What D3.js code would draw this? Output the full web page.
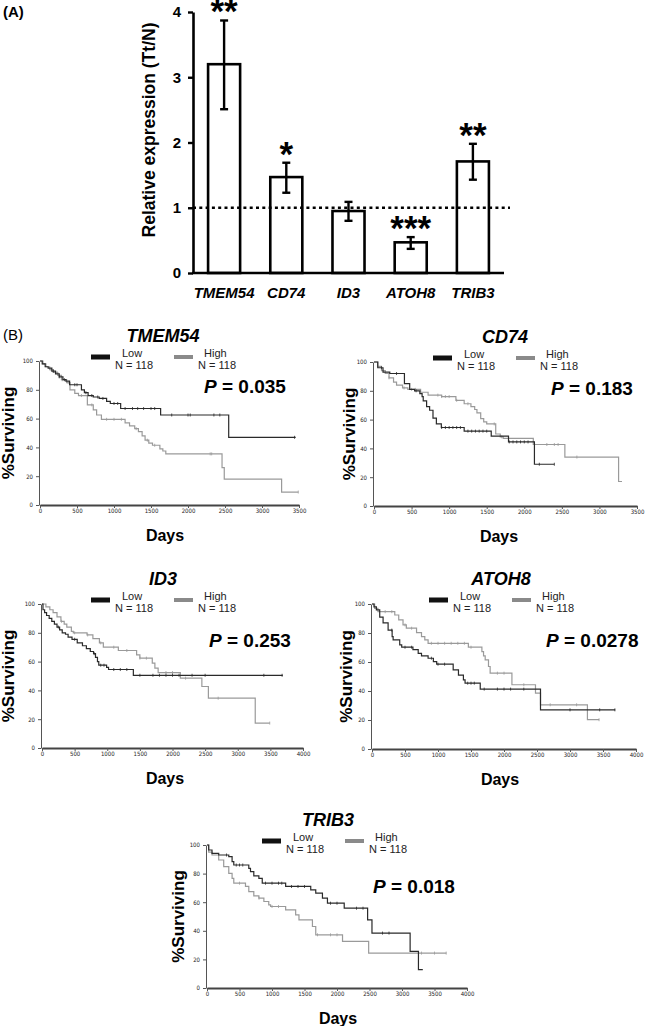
<!DOCTYPE html>
<meta charset="utf-8">
<script src="https://d3js.org/d3.v7.min.js"></script>
<style>
  body { margin: 0; background: #fff; }
  text { font-family: "Liberation Sans", Arial, sans-serif; }
</style>
<div id="fig"></div>
<script>

// ---- panel A data
var genes = ["TMEM54", "CD74", "ID3", "ATOH8", "TRIB3"];
var expr = [3.2, 1.47, 0.95, 0.47, 1.71];
var errHi = [3.87, 1.69, 1.09, 0.55, 1.98];
var errLo = [2.51, 1.23, 0.80, 0.37, 1.43];
var stars = ["**", "*", "", "***", "**"];
var yTicksA = [0, 1, 2, 3, 4];

// ---- panel B data : [day, % surviving] steps
var tmem54Low = [[0,100],[30,98],[70,96],[110,95],[160,93],[210,91],[260,89],[310,87],[350,86],[400,83.5],[560,80],[600,78],[650,76],[720,75],[800,74],[900,72],[950,70.5],[1090,67],[1630,62.5],[2550,47],[3455,47]];
var tmem54High = [[0,100],[40,98],[80,96],[130,94],[180,92],[240,90],[290,87],[360,85],[405,80],[470,77.5],[520,76],[640,69.5],[720,66],[765,62.5],[830,59.5],[1150,57],[1210,55],[1280,53],[1330,51],[1380,48],[1420,45],[1470,43],[1520,41.5],[1620,39],[1660,37.5],[1700,35.5],[2460,26],[2490,18],[3265,9],[3490,9]];
var tmem54LowCens = [180,260,330,470,500,620,700,780,850,1000,1050,1150,1250,1320,1400,1500,1550,1780,2000,2030,2350,2430,3440];
var tmem54HighCens = [150,230,300,380,560,700,900,1000,1100,1300,1450,1550,2300,2320,3490];

var cd74Low = [[0,100],[50,96],[120,93],[210,92],[405,85],[475,81],[540,80],[610,78],[640,76],[655,73],[700,69],[740,66.5],[785,61],[830,57],[896,54.5],[1200,52],[1560,48.5],[1790,44.5],[2135,29],[2400,29]];
var cd74High = [[0,100],[50,97],[100,94],[150,92],[200,89],[260,86],[300,84],[380,82],[450,81],[620,79],[720,77],[900,76],[1090,73.4],[1200,71],[1290,69],[1340,67],[1370,64.7],[1420,60.7],[1460,58.4],[1500,57],[1620,50],[1680,48],[1720,47],[2120,42.7],[2540,34],[3255,17],[3300,17]];
var cd74LowCens = [100,300,560,900,950,1000,1050,1100,1150,1250,1300,1350,1400,1450,1500,1800,1850,1900,1950,2000,2050,2200,2400];
var cd74HighCens = [200,400,500,550,850,900,950,1000,1100,1250,1600,1700,2300,2400,2450,2700];

var id3Low = [[0,100],[15,96],[40,94],[70,92],[110,90],[150,88],[190,86],[230,84],[270,82],[310,80],[360,79],[400,77],[460,75.5],[540,73],[620,71],[680,69],[740,67],[790,65.5],[820,63],[850,60],[870,57.5],[990,56],[1020,54.5],[1400,50.5],[3690,50.5]];
var id3High = [[0,100],[60,98],[120,96],[170,94],[230,91],[290,88],[340,86],[380,84],[450,81],[480,80],[690,78.5],[780,76],[880,73],[940,70],[1170,67.7],[1450,64.7],[1500,62.4],[1690,59],[1730,55.5],[1780,52.4],[2120,48.5],[2450,42.7],[2550,34.6],[3268,17.3],[3490,17.3]];
var id3LowCens = [250,500,800,900,950,1100,1200,1300,1500,1700,1800,1900,2000,2100,2300,2500,3400,3680];
var id3HighCens = [300,500,700,900,1100,1300,1500,1600,1900,2000,2200,2700,3490];

var atoh8Low = [[0,100],[30,98],[66,96],[117,91],[168,87],[244,82],[305,77.5],[320,75.2],[420,71.8],[450,70.2],[620,68.5],[700,66],[750,64.2],[850,62.6],[930,60.3],[980,58.5],[1230,54.6],[1310,51],[1385,47.7],[1410,45.4],[1640,41.3],[2553,27],[3685,27]];
var atoh8High = [[0,100],[40,97],[90,94.7],[345,92.4],[405,89],[470,85.6],[520,83.3],[675,80.3],[750,77.5],[800,75.2],[850,72.9],[1460,70.2],[1665,67.2],[1690,64.2],[1715,61.5],[1765,56.9],[1790,52.3],[2120,44.3],[2477,38.5],[2553,30.5],[3264,20.2],[3442,20.2]];
var atoh8LowCens = [300,500,600,900,1000,1100,1450,1500,1550,1700,1900,2000,2100,2300,3000,3450,3680];
var atoh8HighCens = [200,300,500,600,900,1000,1100,1200,1300,1400,1500,1900,2000,2300,2700,3100,3440];

var trib3Low = [[0,100],[26,96.5],[77,94.2],[180,93],[335,91.9],[386,88.4],[412,86],[643,83.7],[669,81.4],[720,78.4],[798,76.7],[850,73.3],[1210,71],[1596,68.6],[1673,66.3],[1776,62.8],[1853,59.3],[2111,55.8],[2471,47.7],[2538,38.4],[3125,25.6],[3253,12.8],[3320,12.8]];
var trib3High = [[0,100],[26,95],[77,93],[180,89.5],[257,84.9],[335,80.2],[386,76.7],[412,73.3],[592,71],[643,67.4],[720,64.4],[798,62.8],[875,60.5],[950,58.1],[978,57],[1210,54.7],[1364,51.2],[1415,47.7],[1622,43],[1673,37.2],[2085,32.6],[2487,24.4],[3681,24.4]];
var trib3LowCens = [300,450,500,550,900,1000,1100,1150,1300,1400,1500,1900,2000,2300,2400,2700,2800];
var trib3HighCens = [500,800,1000,1100,1700,1900,2000,3300,3500,3680];

var pValues = ["0.035", "0.183", "0.253", "0.0278", "0.018"];
var groupN = [118, 118];
var daysTicks3500 = [0,500,1000,1500,2000,2500,3000,3500];
var daysTicks4000 = [0,500,1000,1500,2000,2500,3000,3500,4000];
var survTicks = [0,20,40,60,80,100];

var svg = d3.select("#fig").append("svg")
    .attr("width", 646)
    .attr("height", 1026);

// ================= (A) bar chart
svg.append("text").attr("x", 3).attr("y", 17)
  .style("font-size", "15px").style("font-weight", "bold").text("(A)");

var x = d3.scaleBand()
  .domain(genes)
  .range([193, 504])
  .paddingInner(0.485)
  .paddingOuter(0.2425);
var y = d3.scaleLinear()
  .domain([0, 4])
  .range([273, 12]);

svg.selectAll(".bar")
  .data(genes)
  .enter()
  .append("rect")
    .attr("class", "bar")
    .attr("x", function(d) { return x(d); })
    .attr("y", function(d, i) { return y(expr[i]); })
    .attr("width", x.bandwidth())
    .attr("height", function(d, i) { return y(0) - y(expr[i]); })
    .attr("fill", "#fff")
    .attr("stroke", "#000")
    .attr("stroke-width", 2.6);

// reference line at 1
svg.append("line")
  .attr("x1", 193).attr("x2", 510)
  .attr("y1", y(1)).attr("y2", y(1))
  .attr("stroke", "#000")
  .attr("stroke-width", 2.6)
  .attr("stroke-dasharray", "3,3.3");

// error bars
var eb = svg.selectAll(".err")
  .data(genes)
  .enter()
  .append("g")
    .attr("class", "err")
    .attr("transform", function(d) { return "translate(" + (x(d) + x.bandwidth() / 2) + ",0)"; });
eb.append("line")
  .attr("y1", function(d, i) { return y(errLo[i]); })
  .attr("y2", function(d, i) { return y(errHi[i]); })
  .attr("stroke", "#000").attr("stroke-width", 2.4);
eb.append("line")
  .attr("x1", -4).attr("x2", 4)
  .attr("y1", function(d, i) { return y(errLo[i]); })
  .attr("y2", function(d, i) { return y(errLo[i]); })
  .attr("stroke", "#000").attr("stroke-width", 2.4);
eb.append("line")
  .attr("x1", -4).attr("x2", 4)
  .attr("y1", function(d, i) { return y(errHi[i]); })
  .attr("y2", function(d, i) { return y(errHi[i]); })
  .attr("stroke", "#000").attr("stroke-width", 2.4);
eb.append("text")
  .attr("text-anchor", "middle")
  .attr("y", function(d, i) { return y(errHi[i]) + 3; })
  .style("font-size", "35px")
  .style("font-weight", "bold")
  .text(function(d, i) { return stars[i]; });

// axes
var yAxis = svg.append("g")
  .attr("transform", "translate(193,0)")
  .call(d3.axisLeft(y).tickValues(yTicksA).tickSize(5).tickSizeOuter(0).tickPadding(7).tickFormat(d3.format("d")));
yAxis.select(".domain").attr("stroke-width", 2.6);
yAxis.selectAll(".tick line").attr("stroke-width", 2.4);
yAxis.selectAll(".tick text")
  .style("font-family", "Liberation Sans, Arial, sans-serif")
  .style("font-size", "15px").style("font-weight", "bold").attr("fill", "#000");

svg.append("line")
  .attr("x1", 192).attr("x2", 504)
  .attr("y1", y(0)).attr("y2", y(0))
  .attr("stroke", "#000").attr("stroke-width", 2.6);

svg.selectAll(".glab")
  .data(genes)
  .enter()
  .append("text")
    .attr("class", "glab")
    .attr("x", function(d) { return x(d) + x.bandwidth() / 2; })
    .attr("y", 298)
    .attr("text-anchor", "middle")
    .style("font-size", "15px").style("font-weight", "bold").style("font-style", "italic")
    .text(function(d) { return d; });

svg.append("text")
  .attr("transform", "translate(155,130) rotate(-90)")
  .attr("text-anchor", "middle")
  .style("font-size", "17.5px").style("font-weight", "bold")
  .text("Relative expression (Tt/N)");

// ================= (B) survival curves
svg.append("text").attr("x", 3).attr("y", 340)
  .style("font-size", "15px").text("(B)");

var panels = [
  {gene: "TMEM54", low: tmem54Low, high: tmem54High, lowC: tmem54LowCens, highC: tmem54HighCens, p: pValues[0], ticks: daysTicks3500,
   x0: 40, x1: 299, yTop: 361, yBot: 505, titleX: 163, legX: 91, pX: 204, pY: 393, survX: 14, daysX: 165},
  {gene: "CD74", low: cd74Low, high: cd74High, lowC: cd74LowCens, highC: cd74HighCens, p: pValues[1], ticks: daysTicks3500,
   x0: 374, x1: 637, yTop: 362, yBot: 506, titleX: 505, legX: 433, pX: 551, pY: 395, survX: 355, daysX: 499},
  {gene: "ID3", low: id3Low, high: id3High, lowC: id3LowCens, highC: id3HighCens, p: pValues[2], ticks: daysTicks4000,
   x0: 42, x1: 303, yTop: 604, yBot: 748, titleX: 163, legX: 91, pX: 209, pY: 647, survX: 14, daysX: 165},
  {gene: "ATOH8", low: atoh8Low, high: atoh8High, lowC: atoh8LowCens, highC: atoh8HighCens, p: pValues[3], ticks: daysTicks4000,
   x0: 372, x1: 636, yTop: 604, yBot: 749, titleX: 501, legX: 429, pX: 546, pY: 647, survX: 352, daysX: 500},
  {gene: "TRIB3", low: trib3Low, high: trib3High, lowC: trib3LowCens, highC: trib3HighCens, p: pValues[4], ticks: daysTicks4000,
   x0: 207, x1: 467, yTop: 845, yBot: 988, titleX: 328, legX: 262, pX: 373, pY: 893, survX: 184, daysX: 338}
];

function survAt(pts, day) {
  var v = pts[0][1];
  pts.forEach(function(p) { if (p[0] <= day) v = p[1]; });
  return v;
}

function drawKM(p) {
  var xMax = p.ticks[p.ticks.length - 1];
  var kx = d3.scaleLinear().domain([0, xMax]).range([p.x0, p.x1]);
  var ky = d3.scaleLinear().domain([0, 100]).range([p.yBot, p.yTop]);
  var g = svg.append("g");

  // axes
  var ax = g.append("g")
    .attr("transform", "translate(0," + p.yBot + ")")
    .call(d3.axisBottom(kx).tickValues(p.ticks).tickSize(3).tickSizeOuter(0).tickPadding(1).tickFormat(d3.format("d")));
  ax.select(".domain").attr("stroke", "#444").attr("stroke-width", 1.8);
  var ay = g.append("g")
    .attr("transform", "translate(" + (p.x0 - 1) + ",0)")
    .call(d3.axisLeft(ky).tickValues(survTicks).tickSize(3).tickSizeOuter(0).tickPadding(3).tickFormat(d3.format("d")));
  ay.select(".domain").attr("stroke", "#555").attr("stroke-width", 1);
  g.selectAll(".tick line").attr("stroke", "#555");
  g.selectAll(".tick text")
    .style("font-family", "DejaVu Sans Condensed, DejaVu Sans, sans-serif")
    .style("font-size", "6px").attr("fill", "#222");

  var line = d3.line()
    .x(function(d) { return kx(d[0]); })
    .y(function(d) { return ky(d[1]); })
    .curve(d3.curveStepAfter);

  g.append("path").datum(p.high)
    .attr("d", line).attr("fill", "none")
    .attr("stroke", "#9a9a9a").attr("stroke-width", 1.2);
  g.selectAll(".ch").data(p.highC).enter().append("line")
    .attr("x1", function(d) { return kx(d); }).attr("x2", function(d) { return kx(d); })
    .attr("y1", function(d) { return ky(survAt(p.high, d)) - 1.5; })
    .attr("y2", function(d) { return ky(survAt(p.high, d)) + 1.5; })
    .attr("stroke", "#9a9a9a").attr("stroke-width", 0.8);

  g.append("path").datum(p.low)
    .attr("d", line).attr("fill", "none")
    .attr("stroke", "#2a2a2a").attr("stroke-width", 1.2);
  g.selectAll(".cl").data(p.lowC).enter().append("line")
    .attr("x1", function(d) { return kx(d); }).attr("x2", function(d) { return kx(d); })
    .attr("y1", function(d) { return ky(survAt(p.low, d)) - 1.5; })
    .attr("y2", function(d) { return ky(survAt(p.low, d)) + 1.5; })
    .attr("stroke", "#2a2a2a").attr("stroke-width", 0.8);

  // title
  g.append("text")
    .attr("x", p.titleX).attr("y", p.yTop - 19)
    .attr("text-anchor", "middle")
    .style("font-size", "18px").style("font-weight", "bold").style("font-style", "italic")
    .text(p.gene);

  // legend
  var leg = [{name: "Low", col: "#111", h: 5, dx: 0, tx: 31, nx: 24},
             {name: "High", col: "#8a8a8a", h: 4, dx: 83, tx: 113, nx: 107}];
  leg.forEach(function(l, i) {
    g.append("rect")
      .attr("x", p.legX + l.dx).attr("y", p.yTop - 4 - l.h / 2)
      .attr("width", 19).attr("height", l.h).attr("fill", l.col);
    g.append("text")
      .attr("x", p.legX + l.tx).attr("y", p.yTop - 4)
      .style("font-size", "11px").attr("fill", "#222").text(l.name);
    g.append("text")
      .attr("x", p.legX + l.nx).attr("y", p.yTop + 8)
      .style("font-size", "11px").attr("fill", "#222").text("N = " + groupN[i]);
  });

  // p value
  var pt = g.append("text")
    .attr("x", p.pX).attr("y", p.pY)
    .style("font-size", "19px").style("font-weight", "bold");
  pt.append("tspan").style("font-style", "italic").text("P");
  pt.append("tspan").text(" = " + p.p);

  // axis titles
  g.append("text")
    .attr("transform", "translate(" + p.survX + "," + ((p.yTop + p.yBot) / 2) + ") rotate(-90)")
    .attr("text-anchor", "middle")
    .style("font-size", "17px").style("font-weight", "bold")
    .text("%Surviving");
  g.append("text")
    .attr("x", p.daysX).attr("y", p.yBot + 36)
    .attr("text-anchor", "middle")
    .style("font-size", "16px").style("font-weight", "bold")
    .text("Days");
}

panels.forEach(drawKM);

</script>
